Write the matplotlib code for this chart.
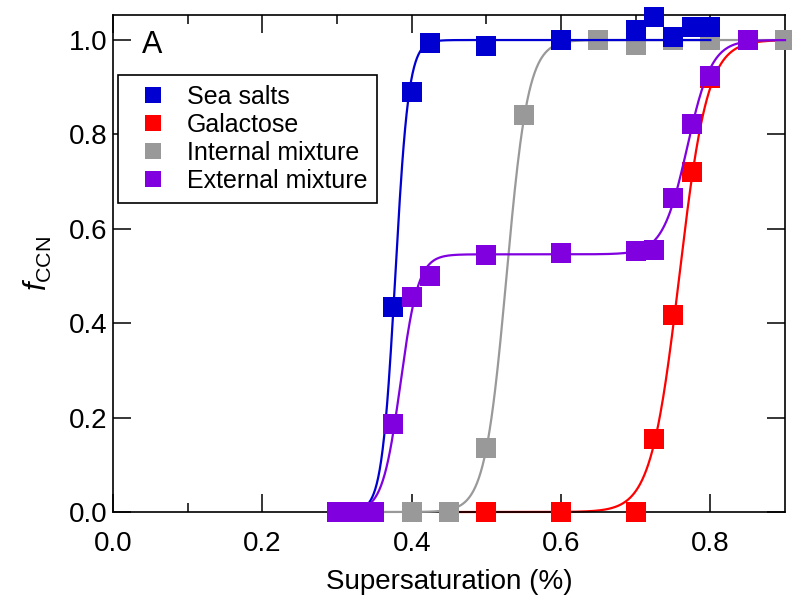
import numpy as np
import matplotlib
matplotlib.use("Agg")
import matplotlib.pyplot as plt

plt.rcParams['font.family'] = ['Liberation Sans', 'DejaVu Sans']
plt.rcParams['mathtext.fontset'] = 'custom'
plt.rcParams['mathtext.rm'] = 'Liberation Sans'
plt.rcParams['mathtext.it'] = 'Liberation Sans:italic'

# Measured activated fractions vs. supersaturation (%)
sea_x = [0.30, 0.325, 0.35, 0.375, 0.40, 0.425, 0.50, 0.60, 0.70, 0.725, 0.75, 0.775, 0.80]
sea_y = [0.0, 0.0, 0.0, 0.435, 0.89, 0.994, 0.987, 1.0, 1.021, 1.048, 1.006, 1.028, 1.028]

gal_x = [0.45, 0.50, 0.60, 0.70, 0.725, 0.75, 0.775, 0.80, 0.85]
gal_y = [0.0, 0.0, 0.0, 0.0, 0.155, 0.417, 0.72, 0.92, 1.0]

int_x = [0.30, 0.325, 0.35, 0.40, 0.45, 0.50, 0.55, 0.60, 0.65, 0.70, 0.75, 0.80, 0.90]
int_y = [0.0, 0.0, 0.0, 0.0, 0.0, 0.136, 0.841, 1.0, 1.0, 0.99, 1.0, 1.0, 1.0]

ext_x = [0.30, 0.325, 0.35, 0.375, 0.40, 0.425, 0.50, 0.60, 0.70, 0.725, 0.75, 0.775, 0.80, 0.85]
ext_y = [0.0, 0.0, 0.0, 0.186, 0.455, 0.50, 0.544, 0.549, 0.553, 0.555, 0.665, 0.822, 0.924, 1.0]

labels = ["Sea salts", "Galactose", "Internal mixture", "External mixture"]
colors = ["#0000D0", "#FF0000", "#999999", "#8000E0"]

# Sigmoid fit parameters: (amplitude, centre, width)
sea_fit = (1.0, 0.378, 0.009)
gal_fit = (1.0, 0.7584, 0.019)
int_fit = (1.0, 0.527, 0.0145)
ext_fit = [(0.546, 0.385, 0.012), (0.454, 0.769, 0.0164)]
fit_ranges = {"sea": (0.30, 0.80), "gal": (0.45, 0.90), "int": (0.30, 0.90), "ext": (0.30, 0.90)}


def sigmoid(x, params):
    a, x0, w = params
    return a / (1.0 + np.exp(-(x - x0) / w))


fig = plt.figure(figsize=(7.92, 5.96), dpi=100)
ax = fig.add_axes([0.1427, 0.1409, 0.9912 - 0.1427, 0.9748 - 0.1409])

ms = 14.4
series = [
    ("gal", gal_x, gal_y, 1, lambda x: sigmoid(x, gal_fit)),
    ("int", int_x, int_y, 2, lambda x: sigmoid(x, int_fit)),
    ("sea", sea_x, sea_y, 0, lambda x: sigmoid(x, sea_fit)),
    ("ext", ext_x, ext_y, 3, lambda x: sigmoid(x, ext_fit[0]) + sigmoid(x, ext_fit[1])),
]
handles = [None] * 4
for z, (key, xs, ys, idx, fitfun) in enumerate(series):
    lo, hi = fit_ranges[key]
    xf = np.linspace(lo, hi, 500)
    ax.plot(xf, fitfun(xf), color=colors[idx], lw=1.6, zorder=2 + 2 * z, clip_on=False)
    h, = ax.plot(xs, ys, ls='none', marker='s', ms=ms, mew=0, color=colors[idx],
                 zorder=3 + 2 * z, clip_on=False, label=labels[idx])
    handles[idx] = h

ax.set_xlim(0, 0.9)
ax.set_ylim(0, 1.053)
ax.set_xticks(np.arange(0, 0.81, 0.2))
ax.set_xticks(np.arange(0.1, 0.9, 0.2), minor=True)
ax.set_yticks(np.arange(0, 1.01, 0.2))
ax.xaxis.set_major_formatter(matplotlib.ticker.FormatStrFormatter('%.1f'))
ax.yaxis.set_major_formatter(matplotlib.ticker.FormatStrFormatter('%.1f'))
ax.tick_params(which='both', direction='in', top=True, right=True, width=1.1, labelsize=20)
ax.tick_params(axis='x', which='major', pad=14)
ax.tick_params(axis='y', which='major', pad=4)
ax.tick_params(which='major', length=13)
ax.tick_params(which='minor', length=6.5)
for s in ax.spines.values():
    s.set_linewidth(1.2)

ax.set_xlabel("Supersaturation (%)", fontsize=20, labelpad=8)
ax.set_ylabel(r"$f_{\mathrm{CCN}}$", fontsize=22, labelpad=11)

ax.text(0.043, 0.94, "A", transform=ax.transAxes, fontsize=22, ha='left', va='center')

leg = ax.legend(handles=handles, loc='upper left', bbox_to_anchor=(0.0074, 0.879),
                borderaxespad=0, fontsize=18, markerscale=0.83, frameon=True,
                fancybox=False, framealpha=1, edgecolor='black', labelspacing=0.16,
                handletextpad=0.36, borderpad=0.4, handlelength=2.0)
leg.get_frame().set_linewidth(1.2)
leg.set_zorder(20)

fig.savefig("out.png", dpi=100)
